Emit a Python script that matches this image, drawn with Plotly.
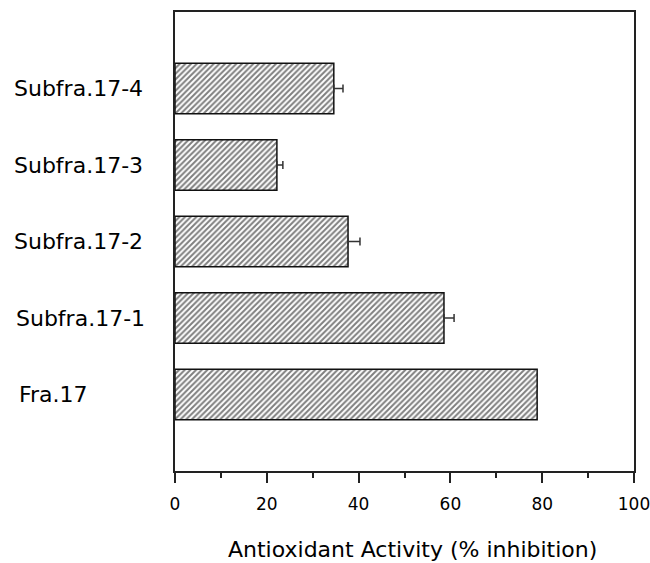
import plotly.graph_objects as go

categories = ["Fra.17", "Subfra.17-1", "Subfra.17-2", "Subfra.17-3", "Subfra.17-4"]
values = [78.9, 58.6, 37.7, 22.2, 34.6]
errors = [0.0, 2.2, 2.6, 1.3, 2.0]
label_x = [-0.344, -0.351, -0.355, -0.355, -0.355]
x_ticks = [0, 20, 40, 60, 80, 100]
x_title = "Antioxidant Activity (% inhibition)"

FONT = "DejaVu Sans, Arial, sans-serif"

fig = go.Figure()
fig.add_trace(go.Bar(
    x=values,
    y=list(range(len(categories))),
    orientation="h",
    width=0.66,
    marker=dict(
        color="white",
        line=dict(color="#111", width=1.5),
        pattern=dict(shape="/", fgcolor="#000", bgcolor="white", size=4, solidity=0.5),
    ),
    error_x=dict(type="data", array=errors, arrayminus=[0] * len(errors), symmetric=False,
                 color="#333", thickness=1.5, width=4),
    showlegend=False,
))

for i, (c, lx) in enumerate(zip(categories, label_x)):
    fig.add_annotation(x=lx, xref="paper", y=i, yref="y", text=c, showarrow=False,
                       xanchor="left", yanchor="middle",
                       font=dict(family=FONT, size=22, color="black"))

fig.add_annotation(x=0.5185, xref="paper", y=-0.170, yref="paper", text=x_title,
                   showarrow=False, xanchor="center", yanchor="middle",
                   font=dict(family=FONT, size=22, color="black"))

fig.update_layout(
    width=650, height=563,
    margin=dict(l=175, r=16, t=12, b=92, autoexpand=False),
    paper_bgcolor="white", plot_bgcolor="white",
    font=dict(family=FONT, color="black"),
    xaxis=dict(
        range=[0, 100], tickvals=x_ticks, ticks="outside", ticklen=10, tickwidth=1.5,
        tickcolor="#222", showline=True, linecolor="#222", linewidth=1.5, mirror=True,
        showgrid=False, zeroline=False, automargin=False, ticklabeloverflow="allow",
        ticklabelstandoff=7,
        tickfont=dict(size=17, family=FONT),
        minor=dict(dtick=10, ticks="outside", ticklen=5, tickwidth=1.5, tickcolor="#222"),
    ),
    yaxis=dict(
        range=[-1, 5], showticklabels=False, ticks="", showline=True, linecolor="#222",
        linewidth=1.5, mirror=True, showgrid=False, zeroline=False, automargin=False,
    ),
)

fig.write_html("out.html", config={"displayModeBar": False},
               post_script="document.body.style.margin='0';document.body.style.padding='0';")
